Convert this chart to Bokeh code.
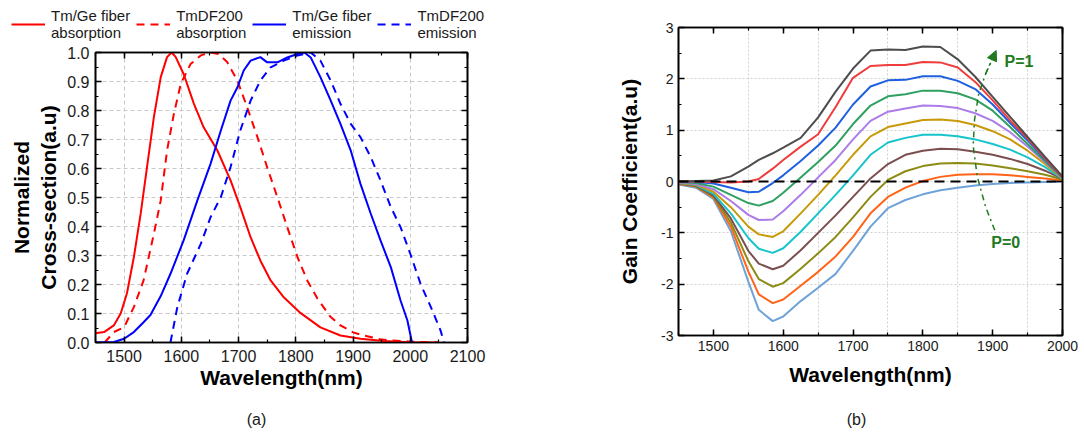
from bokeh.plotting import figure
from bokeh.models import (Range1d, SingleIntervalTicker, FixedTicker, LinearAxis, Legend,
                          LegendItem, Label, Arrow, NormalHead, PrintfTickFormatter, Span,
                          CustomJSTickFormatter)
from bokeh.layouts import row, column
from bokeh.embed import file_html
from bokeh.resources import INLINE

FONT = "Liberation Sans"

# ---------------- (a) normalized cross-sections ----------------
wl_tmge_abs = [1450, 1465, 1482, 1494, 1505, 1517, 1529, 1540, 1552, 1564, 1575, 1583, 1590,
               1604, 1622, 1639, 1663, 1686, 1703, 1721, 1738, 1756, 1779, 1808, 1843, 1878,
               1913, 1954, 2000, 2050]
cs_tmge_abs = [0.032, 0.036, 0.059, 0.10, 0.17, 0.294, 0.445, 0.605, 0.777, 0.915, 0.984, 1.0,
               0.985, 0.926, 0.823, 0.742, 0.662, 0.559, 0.467, 0.363, 0.283, 0.214, 0.156,
               0.102, 0.052, 0.024, 0.013, 0.005, 0.001, 0.0]

wl_df_abs = [1466, 1482, 1500, 1517, 1534, 1552, 1564, 1575, 1587, 1599, 1616, 1634, 1651, 1665,
             1680, 1698, 1715, 1733, 1750, 1768, 1785, 1803, 1820, 1838, 1860, 1878, 1900, 1919,
             1950, 2000, 2050]
cs_df_abs = [0.0, 0.036, 0.053, 0.122, 0.214, 0.375, 0.49, 0.662, 0.789, 0.892, 0.96, 0.99, 1.0,
             0.995, 0.967, 0.903, 0.811, 0.708, 0.604, 0.50, 0.398, 0.294, 0.214, 0.151, 0.09,
             0.059, 0.035, 0.024, 0.01, 0.003, 0.0]

wl_tmge_em = [1450, 1482, 1500, 1517, 1534, 1546, 1564, 1581, 1604, 1628, 1651, 1669, 1686, 1698,
              1709, 1721, 1738, 1750, 1768, 1785, 1803, 1815, 1826, 1843, 1861, 1878, 1896, 1913,
              1931, 1948, 1966, 1983, 1995, 2003]
cs_tmge_em = [0.0, 0.002, 0.013, 0.036, 0.07, 0.095, 0.16, 0.237, 0.352, 0.49, 0.616, 0.731,
              0.834, 0.88, 0.938, 0.972, 0.984, 0.966, 0.966, 0.983, 0.995, 1.0, 0.983, 0.915,
              0.834, 0.754, 0.662, 0.547, 0.444, 0.352, 0.26, 0.145, 0.076, 0.0]

wl_df_em = [1581, 1593, 1610, 1634, 1651, 1669, 1686, 1703, 1721, 1738, 1756, 1779, 1803, 1826,
            1843, 1861, 1878, 1896, 1913, 1931, 1948, 1966, 1983, 2000, 2018, 2036, 2053, 2059]
cs_df_em = [0.0, 0.122, 0.237, 0.34, 0.432, 0.501, 0.605, 0.731, 0.834, 0.903, 0.949, 0.972,
            0.99, 1.0, 0.972, 0.903, 0.823, 0.754, 0.708, 0.639, 0.559, 0.467, 0.398, 0.306,
            0.202, 0.122, 0.041, 0.0]

legend_labels = ["Tm/Ge fiber\nabsorption", "TmDF200\nabsorption",
                 "Tm/Ge fiber\nemission", "TmDF200\nemission"]
legend_colors = ["#ff0000", "#ff0000", "#0000ff", "#0000ff"]
legend_dashes = ["solid", "8 6", "solid", "8 6"]
series_a = [(wl_tmge_abs, cs_tmge_abs), (wl_df_abs, cs_df_abs),
            (wl_tmge_em, cs_tmge_em), (wl_df_em, cs_df_em)]

# ---------------- (b) gain coefficient ----------------
wl_gain = [1450, 1475, 1500, 1525, 1550, 1565, 1585, 1600, 1625, 1650, 1675, 1700, 1725, 1750,
           1775, 1800, 1825, 1850, 1875, 1900, 1925, 1950, 1975, 2000]
g_p00 = [-0.06, -0.12, -0.34, -0.97, -1.95, -2.5, -2.72, -2.63, -2.33, -2.07, -1.8, -1.35, -0.88,
         -0.52, -0.36, -0.25, -0.17, -0.12, -0.08, -0.05, -0.03, -0.02, -0.01, 0.0]
g_p01 = [-0.05, -0.1, -0.31, -0.88, -1.75, -2.2, -2.37, -2.3, -2.03, -1.76, -1.46, -1.08, -0.62,
         -0.3, -0.12, 0.01, 0.09, 0.13, 0.14, 0.14, 0.12, 0.09, 0.06, 0.02]
g_p02 = [-0.04, -0.09, -0.29, -0.8, -1.55, -1.9, -2.05, -1.98, -1.7, -1.4, -1.08, -0.7, -0.3,
         0.03, 0.2, 0.3, 0.35, 0.36, 0.35, 0.31, 0.26, 0.2, 0.13, 0.04]
g_p03 = [-0.04, -0.08, -0.27, -0.72, -1.35, -1.6, -1.71, -1.64, -1.34, -1.0, -0.66, -0.3, 0.06,
         0.34, 0.52, 0.6, 0.64, 0.63, 0.58, 0.52, 0.44, 0.34, 0.21, 0.05]
g_p04 = [-0.03, -0.07, -0.24, -0.62, -1.1, -1.31, -1.39, -1.3, -0.98, -0.62, -0.26, 0.12, 0.52,
         0.76, 0.85, 0.91, 0.91, 0.88, 0.82, 0.73, 0.62, 0.47, 0.28, 0.05]
g_p05 = [-0.03, -0.06, -0.2, -0.5, -0.88, -1.03, -1.08, -0.97, -0.62, -0.26, 0.12, 0.52, 0.88,
         1.06, 1.13, 1.2, 1.21, 1.18, 1.1, 0.98, 0.82, 0.6, 0.34, 0.06]
g_p06 = [-0.02, -0.05, -0.15, -0.38, -0.65, -0.75, -0.74, -0.58, -0.26, 0.08, 0.42, 0.82, 1.18,
         1.36, 1.42, 1.48, 1.47, 1.43, 1.33, 1.18, 0.96, 0.68, 0.38, 0.07]
g_p07 = [-0.01, -0.03, -0.1, -0.26, -0.42, -0.47, -0.38, -0.22, 0.08, 0.38, 0.7, 1.12, 1.48,
         1.66, 1.7, 1.77, 1.77, 1.72, 1.6, 1.38, 1.06, 0.73, 0.4, 0.07]
g_p08 = [0.0, -0.01, -0.04, -0.12, -0.21, -0.2, -0.03, 0.12, 0.4, 0.7, 1.05, 1.5, 1.85, 1.97,
         1.98, 2.05, 2.05, 1.96, 1.8, 1.5, 1.14, 0.8, 0.43, 0.08]
g_p09 = [0.0, 0.0, -0.01, -0.02, 0.0, 0.05, 0.25, 0.42, 0.68, 0.92, 1.45, 2.02, 2.25, 2.27,
         2.27, 2.33, 2.32, 2.22, 1.94, 1.58, 1.19, 0.84, 0.45, 0.08]
g_p10 = [0.0, 0.01, 0.02, 0.1, 0.29, 0.42, 0.55, 0.66, 0.85, 1.25, 1.75, 2.2, 2.55, 2.57, 2.56,
         2.63, 2.62, 2.38, 2.04, 1.65, 1.26, 0.87, 0.48, 0.1]
gain_series = [g_p00, g_p01, g_p02, g_p03, g_p04, g_p05, g_p06, g_p07, g_p08, g_p09, g_p10]
gain_colors = ["#6fa3d8", "#ff6418", "#8c8c14", "#7b4f4f", "#18c4cc", "#c89a0a", "#ac7ce8",
               "#2fa060", "#1f60e0", "#f03c3c", "#4d4d4d"]

# pump-direction annotation (dash-dot guide from P=0 to P=1)
guide_x = [1903, 1890, 1878, 1872, 1874, 1880, 1890, 1899]
guide_y = [-0.95, -0.5, 0.09, 0.7, 1.2, 1.71, 2.1, 2.38]
P_GREEN = "#217a21"

EMPTY = CustomJSTickFormatter(code="return ''")


def style_axis(ax, size, show_labels=True):
    ax.axis_line_width = 1.6
    ax.axis_line_color = "black"
    ax.major_tick_in = 6
    ax.major_tick_out = 0
    ax.minor_tick_in = 3
    ax.minor_tick_out = 0
    ax.major_tick_line_width = 1.5
    ax.minor_tick_line_width = 1.2
    ax.major_tick_line_color = "black"
    ax.minor_tick_line_color = "black"
    ax.major_label_text_font = FONT
    ax.major_label_text_color = "#1a1a1a"
    ax.axis_label_text_font = FONT
    ax.axis_label_text_font_style = "bold"
    ax.axis_label_text_font_size = "21px"
    ax.axis_label_text_color = "black"
    if show_labels:
        ax.major_label_text_font_size = f"{size}px"
    else:
        ax.formatter = EMPTY
        ax.major_label_text_font_size = "1px"
        ax.major_label_standoff = 0


def blank_strip(width, height):
    # axis-free strip whose data units equal pixels; used for legend / caption rows
    s = figure(width=width, height=height, x_range=Range1d(0, width), y_range=Range1d(0, height),
               output_backend="svg", toolbar_location=None, x_axis_location=None,
               y_axis_location=None, min_border=0, outline_line_color=None)
    s.xgrid.visible = False
    s.ygrid.visible = False
    return s


def caption_strip(width, text, cx):
    s = blank_strip(width, 30)
    s.add_layout(Label(x=cx, y=14, text=text, text_font=FONT, text_font_size="16px",
                       text_align="center", text_baseline="middle", text_color="#1a1a1a"))
    return s


# ---------------- legend strip above (a) ----------------
pl = blank_strip(548, 44)
# the series are drawn here only to feed the legend; they fall outside this strip's ranges
leg_rs = [pl.line(xs, [v + 1000 for v in ys], line_color=c, line_width=2, line_dash=d)
          for (xs, ys), c, d in zip(series_a, legend_colors, legend_dashes)]
legend = Legend(items=[LegendItem(label=lab, renderers=[r])
                       for lab, r in zip(legend_labels, leg_rs)],
                orientation="horizontal", location=(8, 0),
                background_fill_alpha=0, border_line_alpha=0,
                label_text_font=FONT, label_text_font_size="15px", label_text_color="#1a1a1a",
                glyph_width=34, label_standoff=6, spacing=6, padding=3, margin=0)
pl.add_layout(legend, "center")

# ---------------- figure (a) ----------------
xt_a = SingleIntervalTicker(interval=100, num_minor_ticks=2)
yt_a = SingleIntervalTicker(interval=0.1, num_minor_ticks=2)
pa = figure(width=548, height=359, x_range=Range1d(1450, 2100), y_range=Range1d(0, 1.0),
            output_backend="svg", toolbar_location=None,
            min_border_left=95, min_border_right=81, min_border_top=8, min_border_bottom=61)
pa.xaxis.ticker = xt_a
pa.yaxis.ticker = yt_a
pa.yaxis.formatter = PrintfTickFormatter(format="%.1f")
pa.xaxis.axis_label = "Wavelength(nm)"
pa.yaxis.axis_label = "Normalized\nCross-section(a.u)"
style_axis(pa.xaxis[0], 16)
style_axis(pa.yaxis[0], 16)
pa.xaxis.major_label_standoff = 7
pa.xaxis.axis_label_standoff = 1
pa.yaxis.axis_label_standoff = 4
pa.yaxis.major_label_standoff = 6
for side, tk in (("above", xt_a), ("right", yt_a)):
    ax = LinearAxis(ticker=tk)
    style_axis(ax, 0, show_labels=False)
    pa.add_layout(ax, side)
pa.outline_line_color = "black"
pa.outline_line_width = 1.6
for g in (pa.xgrid[0], pa.ygrid[0]):
    g.grid_line_color = "#c8c8c8"
    g.grid_line_dash = "4 3"
    g.grid_line_width = 1

for (xs, ys), c, d in zip(series_a, legend_colors, legend_dashes):
    pa.line(xs, ys, line_color=c, line_width=2, line_dash=d)
cap_a = caption_strip(548, "(a)", 256)

# ---------------- figure (b) ----------------
xt_b = SingleIntervalTicker(interval=100, num_minor_ticks=2)
yt_b = SingleIntervalTicker(interval=1, num_minor_ticks=2)
pb = figure(width=536, height=403, x_range=Range1d(1450, 2000), y_range=Range1d(-3, 3),
            output_backend="svg", toolbar_location=None,
            min_border_left=130, min_border_right=22, min_border_top=27, min_border_bottom=68)
pb.xaxis.ticker = xt_b
pb.yaxis.ticker = yt_b
pb.yaxis.formatter = PrintfTickFormatter(format="%d")
pb.xaxis.axis_label = "Wavelength(nm)"
pb.yaxis.axis_label = "Gain Coefficient(a.u)"
style_axis(pb.xaxis[0], 14)
style_axis(pb.yaxis[0], 14)
pb.xaxis.axis_label_standoff = 9
pb.yaxis.axis_label_standoff = 17
for side, tk in (("above", xt_b), ("right", yt_b)):
    ax = LinearAxis(ticker=tk)
    style_axis(ax, 0, show_labels=False)
    pb.add_layout(ax, side)
pb.outline_line_color = "black"
pb.outline_line_width = 1.6
pb.xgrid.ticker = FixedTicker(ticks=[1550, 1650, 1750, 1850, 1950])
for g in (pb.xgrid[0], pb.ygrid[0]):
    g.grid_line_color = "#d0d0d0"
    g.grid_line_dash = "2 2"
    g.grid_line_width = 1

for ys, col in zip(gain_series, gain_colors):
    pb.line(wl_gain, ys, line_color=col, line_width=2)

pb.add_layout(Span(location=0, dimension="width", line_color="black", line_width=2,
                   line_dash="10 6"))

pb.line(guide_x, guide_y, line_color=P_GREEN, line_width=1.5, line_dash="dashdot")
pb.add_layout(Arrow(end=NormalHead(size=10, fill_color=P_GREEN, line_color=P_GREEN),
                    x_start=guide_x[-2], y_start=guide_y[-2], x_end=guide_x[-1] + 6,
                    y_end=guide_y[-1] + 0.17, line_color=P_GREEN, line_width=1.5,
                    line_dash="dashdot"))
pb.add_layout(Label(x=1917, y=2.33, text="P=1", text_font=FONT, text_font_size="16px",
                    text_font_style="bold", text_color=P_GREEN, text_baseline="middle"))
pb.add_layout(Label(x=1898, y=-1.19, text="P=0", text_font=FONT, text_font_size="16px",
                    text_font_style="bold", text_color=P_GREEN, text_baseline="middle"))
cap_b = caption_strip(536, "(b)", 308)

layout = row(column(row(pl), row(pa), row(cap_a)), column(row(pb), row(cap_b)))
open("out.html", "w").write(file_html(layout, INLINE))
